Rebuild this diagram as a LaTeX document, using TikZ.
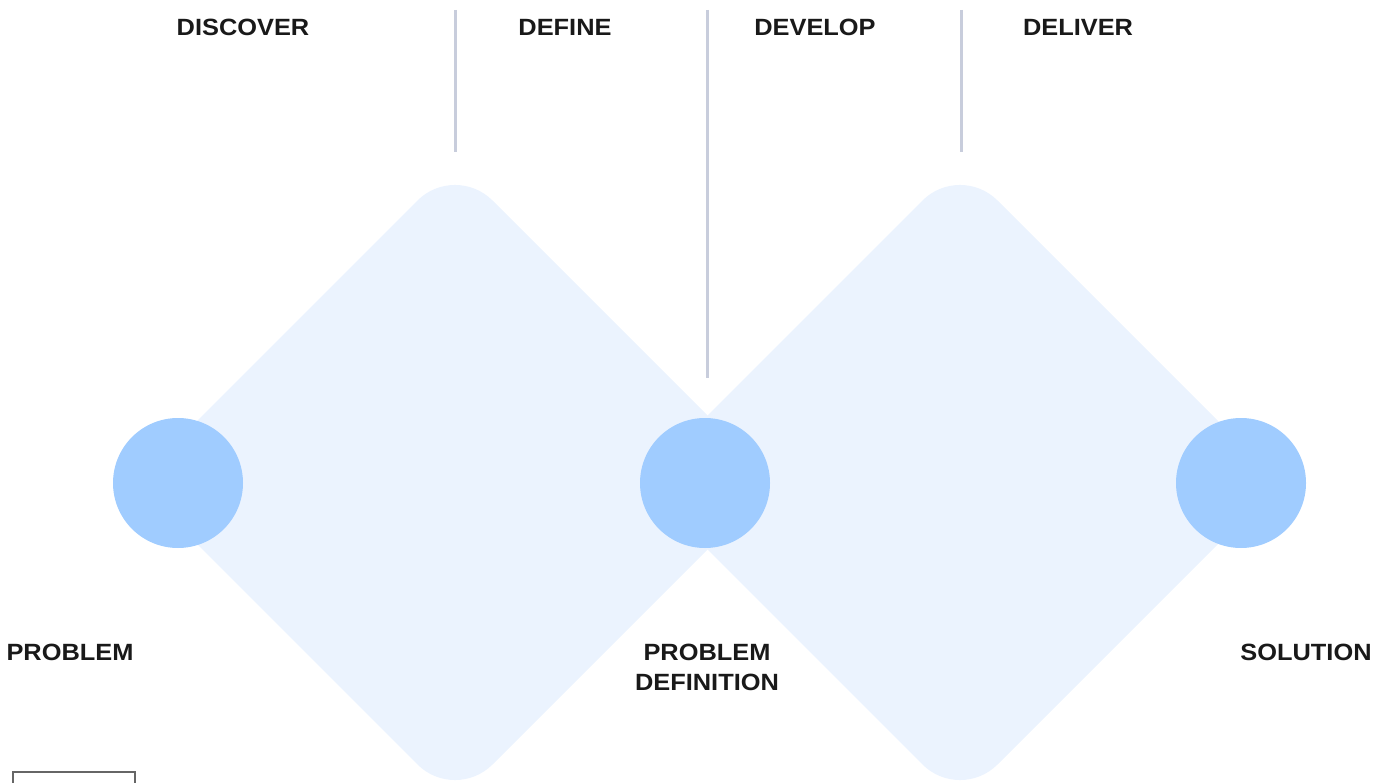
\documentclass[tikz,border=0pt]{standalone}
\usepackage{fontspec}
\setmainfont{Liberation Sans}
\newfontfamily\labelfont[FakeStretch=1.08]{Liberation Sans}
\usetikzlibrary{positioning}

\definecolor{diamondfill}{RGB}{235,243,254}
\definecolor{stagefill}{RGB}{160,204,255}
\definecolor{dividergray}{RGB}{200,205,220}

\begin{document}
\begin{tikzpicture}[x=1pt,y=-1pt]
\tikzstyle{phase}=[font=\labelfont\fontsize{23.5}{30}\selectfont\bfseries,text=black!90,inner sep=0pt]
\tikzstyle{stage}=[circle,fill=stagefill,minimum size=130pt,inner sep=0pt]
\tikzstyle{result}=[font=\labelfont\fontsize{23.5}{30}\selectfont\bfseries,text=black!90,align=center,inner sep=0pt]
\tikzstyle{divider}=[draw=dividergray,line width=3pt]
\useasboundingbox (0,0) rectangle (1389,783);

% the two diamonds
\fill[diamondfill,rounded corners=53pt] (455,163) -- (774.5,482.5) -- (455,802) -- (135.5,482.5) -- cycle;
\fill[diamondfill,rounded corners=53pt] (960,163) -- (1279.5,482.5) -- (960,802) -- (640.5,482.5) -- cycle;

% stages
\node[stage](P) at (178,483) {};
\node[stage](PD) at (705,483) {};
\node[stage](S) at (1241,483) {};

% dividers
\coordinate (d1t) at (455,10); \coordinate (d1b) at (455,152);
\coordinate (d2t) at (707,10); \coordinate (d2b) at (707,378);
\coordinate (d3t) at (961,10); \coordinate (d3b) at (961,152);
\draw[divider] (d1t) -- (d1b);
\draw[divider] (d2t) -- (d2b);
\draw[divider] (d3t) -- (d3b);

% phase titles
\node[phase](discover) at (243,27) {DISCOVER};
\node[phase](define) at (565,27) {DEFINE};
\node[phase](develop) at (815,27) {DEVELOP};
\node[phase](deliver) at (1078,27) {DELIVER};

% results
\node[result](problem) at (70,652) {PROBLEM};
\node[result](definition) at (707,667) {PROBLEM\\DEFINITION};
\node[result](solution) at (1306,652) {SOLUTION};

% cut off box at the bottom
\begin{scope}
\clip (0,0) rectangle (1389,783);
\draw[black!60,line width=2pt] (13,772) rectangle (135,800);
\end{scope}
\end{tikzpicture}
\end{document}
